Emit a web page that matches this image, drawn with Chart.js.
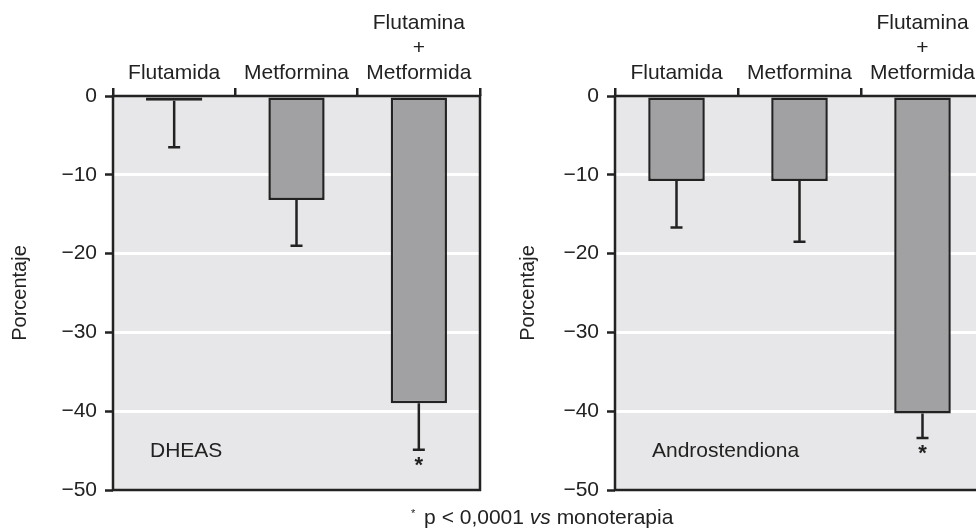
<!DOCTYPE html>
<html>
<head>
<meta charset="utf-8">
<script src="https://cdn.jsdelivr.net/npm/chart.js@4"></script>
<style>
    html, body { margin: 0; padding: 0; background: #fff; overflow: hidden; }
    body { width: 976px; height: 529px; position: relative; }
    canvas { position: absolute; top: 0; }
    #left { left: 0; }
    #right { left: 490px; }
    #note {
        position: absolute; left: 411px; top: 505px;
        font: 21px "Liberation Sans", Arial, sans-serif; color: #222;
        white-space: nowrap;
    }
    #note sup { font-size: 11px; vertical-align: 7px; margin-right: 3px; }
</style>
</head>
<body>
<canvas id="left" width="490" height="529"></canvas>
<canvas id="right" width="500" height="529"></canvas>
<div id="note"><sup>*</sup> p &lt; 0,0001 <i>vs</i> monoterapia</div>

<script>
const categories = ["Flutamida", "Metformina", ["Flutamina", "+", "Metformida"]];
const yTicks = [0, -10, -20, -30, -40, -50];

const dheas = [-0.6, -13.2, -39.0];
const dheasErr = [-6.5, -19.0, -44.9];
const andro = [-10.8, -10.8, -40.3];
const androErr = [-16.7, -18.5, -43.4];
const significant = [false, false, true];

const INK = "#222";
const FONT = { family: '"Liberation Sans", Arial, sans-serif', size: 21 };

const framePlugin = {
    id: "frame",
    beforeDraw(chart) {
        const a = chart.chartArea;
        const ctx = chart.ctx;
        ctx.save();
        ctx.fillStyle = "#e7e7e9";
        ctx.fillRect(a.left, a.top, a.right - a.left, a.bottom - a.top);
        ctx.restore();
    },
    afterDatasetsDraw(chart, args, opts) {
        const ctx = chart.ctx;
        const a = chart.chartArea;
        const y = chart.scales.y;
        const bars = chart.getDatasetMeta(0).data;

        ctx.save();
        ctx.strokeStyle = INK;
        ctx.lineWidth = 2.5;

        // error bars, drawn downward only
        bars.forEach((bar, i) => {
            const y0 = y.getPixelForValue(opts.values[i]);
            const y1 = y.getPixelForValue(opts.errors[i]);
            ctx.beginPath();
            ctx.moveTo(bar.x, y0);
            ctx.lineTo(bar.x, y1);
            ctx.moveTo(bar.x - 6, y1);
            ctx.lineTo(bar.x + 6, y1);
            ctx.stroke();

            if (significant[i]) {
                ctx.fillStyle = INK;
                ctx.font = "bold 22px " + FONT.family;
                ctx.textAlign = "center";
                ctx.textBaseline = "top";
                ctx.fillText("*", bar.x, y1 + 5);
            }
        });

        // frame
        ctx.strokeRect(a.left, a.top, a.right - a.left, a.bottom - a.top);

        // panel label
        ctx.fillStyle = INK;
        ctx.font = FONT.size + "px " + FONT.family;
        ctx.textAlign = "left";
        ctx.textBaseline = "middle";
        ctx.fillText(opts.label, a.left + 37, y.getPixelForValue(-45.1));
        ctx.restore();
    }
};

function makeChart(id, values, errors, label, padLeft, padRight, axisWidth) {
    return new Chart(document.getElementById(id), {
        type: "bar",
        data: {
            labels: categories,
            datasets: [{
                data: values,
                backgroundColor: "#a1a1a4",
                borderColor: INK,
                borderWidth: 2.5,
                borderSkipped: false,
                barPercentage: 0.46,
                categoryPercentage: 1
            }]
        },
        options: {
            responsive: false,
            animation: false,
            layout: { padding: { left: padLeft, right: padRight, top: 0, bottom: 39 } },
            plugins: {
                legend: { display: false },
                tooltip: { enabled: false },
                frame: { values, errors, label }
            },
            scales: {
                x: {
                    position: "top",
                    offset: true,
                    border: { display: false },
                    grid: {
                        offset: true,
                        drawOnChartArea: false,
                        drawTicks: true,
                        tickLength: 8,
                        tickColor: INK,
                        lineWidth: 2.5
                    },
                    ticks: {
                        color: INK,
                        font: FONT,
                        padding: 2,
                        maxRotation: 0,
                        autoSkip: false
                    },
                    afterFit: s => { s.height = 96; }
                },
                y: {
                    min: -50,
                    max: 0,
                    afterBuildTicks: s => { s.ticks = yTicks.map(v => ({ value: v })); },
                    border: { display: false },
                    grid: {
                        color: c => (c.tick && (c.tick.value === 0 || c.tick.value === -50)) ? "rgba(0,0,0,0)" : "#ffffff",
                        lineWidth: 3,
                        drawTicks: true,
                        tickLength: 8,
                        tickColor: INK,
                        tickWidth: 2.5
                    },
                    ticks: {
                        color: INK,
                        font: FONT,
                        padding: 8,
                        callback: v => String(v).replace("-", "\u2212")
                    },
                    title: {
                        display: true,
                        text: "Porcentaje",
                        color: INK,
                        font: { family: FONT.family, size: 20 },
                        padding: { top: 8, bottom: 0 }
                    },
                    afterFit: s => { s.width = axisWidth; }
                }
            }
        },
        plugins: [framePlugin]
    });
}

makeChart("left", dheas, dheasErr, "DHEAS", 0, 10, 113);
makeChart("right", andro, androErr, "Androstendiona", 18, 6, 107);
</script>
</body>
</html>
